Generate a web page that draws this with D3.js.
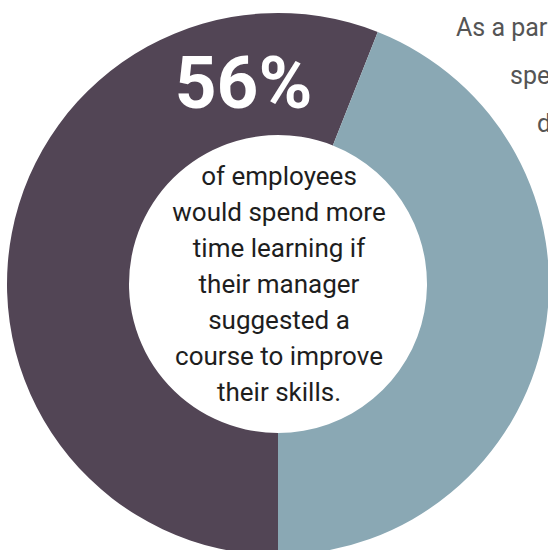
<!DOCTYPE html>
<html><head><meta charset="utf-8">
<script src="https://cdn.jsdelivr.net/npm/d3@7"></script>
<style>html,body{margin:0;padding:0;background:#fff;overflow:hidden}svg{display:block}</style>
</head><body>
<script>
const categories = ["Would spend more time learning", "Other"];
const values = [56, 44];
const colors = ["#524555", "#8AA8B4"];
const headline = "56%";
const bodyLines = ["of employees", "would spend more", "time learning if", "their manager", "suggested a", "course to improve", "their skills."];
const sideLines = ["As a part of", "spend", "development"];

const W = 548, H = 550;
const svg = d3.select("body").append("svg").attr("width", W).attr("height", H);
const cx = 278, cy = 284, R = 271, r = 149;
const startAngle = 2 * Math.PI * 0.06;

const pie = d3.pie().sort(null).value(d => d)
  .startAngle(startAngle + 2 * Math.PI * values[1] / 100 - 2 * Math.PI)
  .endAngle(startAngle + 2 * Math.PI * values[1] / 100);
const arc = d3.arc().innerRadius(r).outerRadius(R);
const g = svg.append("g").attr("transform", `translate(${cx},${cy})`);
g.selectAll("path").data(pie(values)).join("path")
  .attr("d", arc).attr("fill", (d, i) => colors[i]);

svg.append("text").attr("x", 243.5).attr("y", 108).attr("text-anchor", "middle")
  .attr("font-family", "Roboto").attr("font-weight", "bold").attr("font-size", 73)
  .attr("fill", "#fff").text(headline);

svg.append("g").selectAll("text").data(bodyLines).join("text")
  .attr("x", 279).attr("y", (d, i) => 185 + i * 36).attr("text-anchor", "middle")
  .attr("font-family", "Roboto").attr("font-size", 26).attr("fill", "#1e1e1e").text(d => d);

const sideX = [456, 510, 537];
svg.append("g").selectAll("text").data(sideLines).join("text")
  .attr("x", (d, i) => sideX[i]).attr("y", (d, i) => 36 + i * 48)
  .attr("font-family", "Roboto").attr("font-size", 25).attr("fill", "#555").text(d => d);
</script>
</body></html>
